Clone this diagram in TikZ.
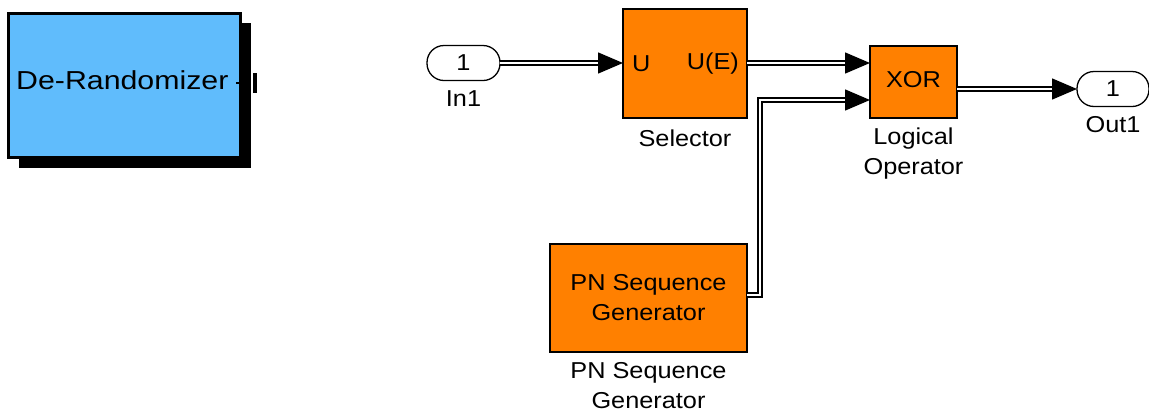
\documentclass[tikz,border=0pt]{standalone}
\usepackage{fontspec}
\setmainfont[FakeStretch=1.1]{Liberation Sans}
\usetikzlibrary{arrows.meta,positioning}
\definecolor{blk}{RGB}{96,188,252}
\definecolor{org}{RGB}{255,128,0}
\begin{document}
\begin{tikzpicture}[x=1pt,y=-1pt,
  txt/.style={font=\fontsize{23}{30}\selectfont, align=center, inner sep=0pt},
  block/.style={draw=black, line width=2pt, fill=org, inner sep=0pt, outer sep=0pt},
  port/.style={draw=black, line width=1.3pt, fill=white, rounded corners=17pt, inner sep=0pt, outer sep=0pt, minimum height=35pt, font=\fontsize{23}{30}\selectfont},
  sig/.style={line width=1.4pt, double=white, double distance=2.8pt},
  tip/.style={-{Triangle[length=25pt,width=21pt]}}
]
\useasboundingbox (0,0) rectangle (1149,416);
% De-Randomizer subsystem with shadow
\fill[black] (19,23) rectangle (251,168);
\node[draw=black, line width=3pt, fill=blk, minimum width=232pt, minimum height=144pt, inner sep=0pt, outer sep=0pt] (der) at (124.5,85.5) {};
\node[anchor=west, inner sep=0pt, font=\fontsize{26}{30}\selectfont] (dert) at (16,80) {\scalebox{1.06}[1]{De-Randomizer}};
\draw[line width=2pt] (236,83) -- (242,83);
\draw[line width=4pt] (255,73) -- (255,93);
% ports
\node[port, minimum width=73pt] (in1) at (463.5,63) {1};
\node[txt, below=10pt of in1] (in1l) {In1};
\node[port, minimum width=72pt] (out1) at (1113,89) {1};
\node[txt, below=10pt of out1] (out1l) {Out1};
% blocks
\node[block, minimum width=124pt, minimum height=109pt] (sel) at (685,63.5) {};
\node[txt, anchor=west] (selu) at ([xshift=9pt]sel.west) {U};
\node[txt, anchor=east] (selue) at ([xshift=-8pt]sel.east) {U(E)};
\node[txt, below=12pt of sel] (sell) {Selector};
\node[block, minimum width=87pt, minimum height=72pt] (xor) at (913.5,82) {};
\node[txt] (xort) at (913.5,80) {XOR};
\node[txt, below=10pt of xor] (xorl) {Logical\\Operator};
\node[block, minimum width=197pt, minimum height=108pt, txt] (pn) at (648.5,298) {PN Sequence\\Generator};
\node[txt, below=10pt of pn] (pnl) {PN Sequence\\Generator};
% connectors
\coordinate (x1) at (870,63);
\coordinate (x2) at (870,100);
\coordinate (pno) at (747,295);
\draw[sig,tip] (in1.east) -- (sel.west |- in1.east);
\draw[sig,tip] (sel.east |- x1) -- (x1);
\draw[sig,tip] (pno) -| (760,100) -- (x2);
\draw[sig,tip] (xor.east |- out1.west) -- (out1.west);
\end{tikzpicture}
\end{document}
